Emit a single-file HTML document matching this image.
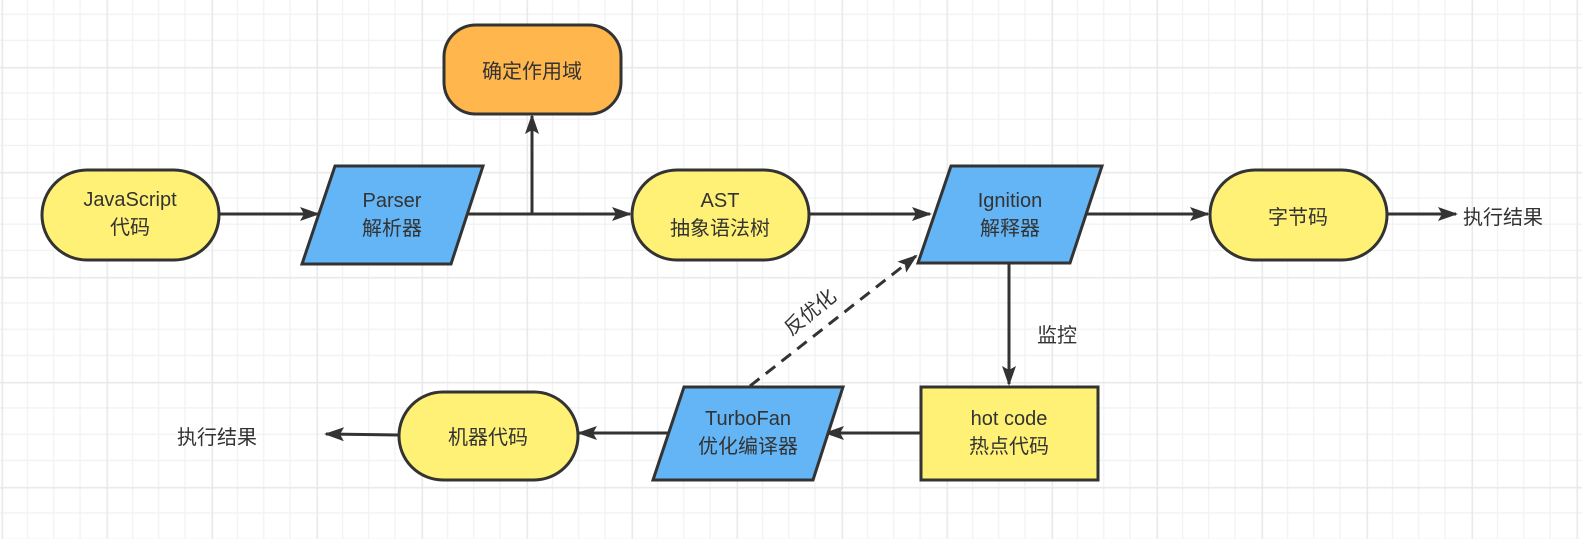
<!DOCTYPE html>
<html><head><meta charset="utf-8"><style>
html,body{margin:0;padding:0;background:#fff;}
svg{display:block;}
text{font-family:"Liberation Sans","Noto Sans CJK SC",sans-serif;font-size:20px;fill:#333;}
</style></head><body>
<svg width="1582" height="539" viewBox="0 0 1582 539" xmlns="http://www.w3.org/2000/svg">
<defs>
<pattern id="g" x="1.3" y="-38.3" width="105" height="105" patternUnits="userSpaceOnUse">
<path d="M26.25 0V105M52.5 0V105M78.75 0V105M0 26.25H105M0 52.5H105M0 78.75H105" stroke="#f1f1f1" stroke-width="1.2" fill="none"/>
<path d="M1 0V105M0 1H105" stroke="#e8e8e8" stroke-width="1.5" fill="none"/>
</pattern>
<marker id="a" markerWidth="20" markerHeight="16" refX="18" refY="7" orient="auto" markerUnits="userSpaceOnUse">
<path d="M0,0 L20,7 L0,14 L4,7 Z" fill="#333"/>
</marker>
</defs>
<rect width="1582" height="539" fill="url(#g)"/>
<g stroke="#333" stroke-width="3" fill="none">
<line x1="219" y1="214" x2="318" y2="214" marker-end="url(#a)"/>
<line x1="467" y1="214" x2="630" y2="214" marker-end="url(#a)"/>
<line x1="532" y1="214" x2="532" y2="116" marker-end="url(#a)"/>
<line x1="810" y1="214" x2="930" y2="214" marker-end="url(#a)"/>
<line x1="1086" y1="214" x2="1208" y2="214" marker-end="url(#a)"/>
<line x1="1388" y1="214" x2="1456" y2="214" marker-end="url(#a)"/>
<line x1="1009" y1="264" x2="1009" y2="384" marker-end="url(#a)"/>
<line x1="920" y1="433" x2="826" y2="433" marker-end="url(#a)"/>
<line x1="668" y1="433" x2="579" y2="433" marker-end="url(#a)"/>
<line x1="398" y1="435" x2="326" y2="434" marker-end="url(#a)"/>
<line x1="750" y1="386" x2="916" y2="256" stroke-dasharray="12,8" marker-end="url(#a)"/>
</g>
<g stroke="#333" stroke-width="3">
<rect x="42" y="170" width="177" height="90" rx="45" fill="#fff176"/>
<polygon points="335,166 483,166 451,264 302,264" fill="#64b5f6"/>
<rect x="444" y="25" width="177" height="89" rx="32" fill="#ffb74d"/>
<rect x="632" y="170" width="177" height="90" rx="45" fill="#fff176"/>
<polygon points="951,166 1102,166 1070,263 918,263" fill="#64b5f6"/>
<rect x="1210" y="170" width="177" height="90" rx="45" fill="#fff176"/>
<rect x="921" y="387" width="177" height="93" fill="#fff176"/>
<polygon points="684,387 843,387 813,480 653,480" fill="#64b5f6"/>
<rect x="399" y="392" width="179" height="88" rx="44" fill="#fff176"/>
</g>
<g text-anchor="middle">
<text x="130" y="206">JavaScript</text><text x="130" y="234">代码</text>
<text x="392" y="207">Parser</text><text x="392" y="235">解析器</text>
<text x="532" y="78">确定作用域</text>
<text x="720" y="207">AST</text><text x="720" y="235">抽象语法树</text>
<text x="1010" y="207">Ignition</text><text x="1010" y="235">解释器</text>
<text x="1298" y="224">字节码</text>
<text x="1503" y="224">执行结果</text>
<text x="1057" y="342">监控</text>
<text x="1009" y="425">hot code</text><text x="1009" y="453">热点代码</text>
<text x="748" y="425">TurboFan</text><text x="748" y="453">优化编译器</text>
<text x="488" y="444">机器代码</text>
<text x="217" y="444">执行结果</text>
<text x="810" y="319" transform="rotate(-39 810 312)">反优化</text>
</g>
</svg>
</body></html>
